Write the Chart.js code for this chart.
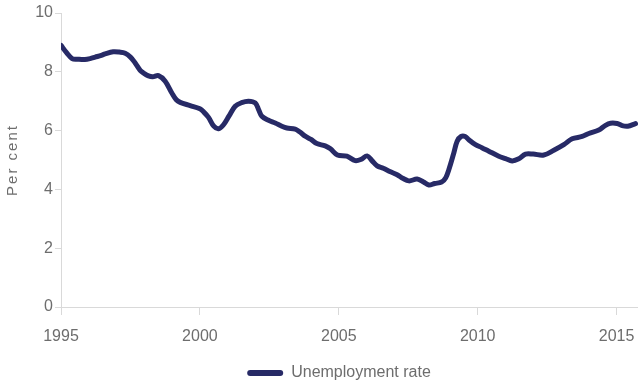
<!DOCTYPE html>
<html>
<head>
<meta charset="utf-8">
<script src="https://cdn.jsdelivr.net/npm/chart.js@4.4.1/dist/chart.umd.min.js"></script>
<style>
html,body{margin:0;padding:0;background:#fff;}
#wrap{width:638px;height:388px;}
</style>
</head>
<body>
<div id="wrap"><canvas id="c" width="638" height="388"></canvas></div>
<script>
// Data (decimal year, per cent)
const years = [1995.00,1995.20,1995.40,1995.60,1995.86,1996.05,1996.23,1996.45,1996.59,1996.88,1997.10,1997.31,1997.50,1997.67,1997.85,1997.97,1998.15,1998.30,1998.51,1998.75,1998.99,1999.15,1999.29,1999.65,2000.00,2000.15,2000.31,2000.50,2000.67,2000.85,2001.05,2001.27,2001.50,2001.75,2001.99,2002.12,2002.23,2002.47,2002.71,2002.95,2003.13,2003.43,2003.60,2003.79,2004.00,2004.21,2004.51,2004.70,2004.95,2005.29,2005.59,2005.80,2006.02,2006.20,2006.38,2006.60,2006.86,2007.10,2007.30,2007.52,2007.82,2008.05,2008.24,2008.45,2008.70,2008.85,2008.96,2009.14,2009.26,2009.40,2009.55,2009.68,2009.92,2010.15,2010.40,2010.76,2011.00,2011.24,2011.48,2011.72,2012.00,2012.38,2012.74,2013.10,2013.40,2013.76,2014.00,2014.36,2014.60,2014.78,2015.02,2015.20,2015.40,2015.68];
const unemploymentRate = [8.90,8.65,8.45,8.43,8.42,8.45,8.50,8.56,8.61,8.68,8.67,8.63,8.50,8.30,8.05,7.96,7.86,7.83,7.87,7.68,7.28,7.05,6.96,6.85,6.74,6.62,6.45,6.15,6.06,6.20,6.50,6.83,6.95,7.00,6.94,6.70,6.49,6.35,6.26,6.15,6.09,6.05,5.95,5.81,5.70,5.56,5.48,5.38,5.17,5.13,4.98,5.02,5.14,4.97,4.80,4.72,4.60,4.50,4.38,4.29,4.35,4.25,4.15,4.20,4.25,4.40,4.67,5.24,5.64,5.80,5.80,5.69,5.52,5.42,5.30,5.13,5.05,4.97,5.04,5.20,5.20,5.17,5.33,5.52,5.72,5.80,5.90,6.02,6.18,6.25,6.24,6.17,6.15,6.24];
const seriesName = 'Unemployment rate';
const yTitle = 'Per cent';
const xTicks = [1995, 2000, 2005, 2010, 2015];
const yTicks = [0, 2, 4, 6, 8, 10];

const points = years.map((x, i) => ({x: x, y: unemploymentRate[i]}));
const navy = '#272a66';
const grey = '#6d6d6d';
const axisGrey = '#d9d9d9';
const tickFont = {family: "'Liberation Sans Narrow','Arial Narrow','Liberation Sans',Arial,sans-serif", size: 16};

const shiftPlugin = {
  id: 'tweaks',
  afterLayout(chart) {
    const lg = chart.legend;
    if (lg) { lg.left += 20; lg.right += 20; lg.top += 3; lg.bottom += 3; }
  },
  beforeDraw(chart) {
    const s = chart.scales.y;
    if (s && !s._lsPatched) {
      const orig = s.drawTitle.bind(s);
      s.drawTitle = function () {
        const ctx = this.ctx;
        ctx.save();
        ctx.letterSpacing = '2px';
        orig();
        ctx.restore();
      };
      s._lsPatched = true;
    }
  }
};

new Chart(document.getElementById('c'), {
  type: 'line',
  data: {
    datasets: [{
      label: seriesName,
      data: points,
      borderColor: navy,
      backgroundColor: navy,
      borderWidth: 5,
      pointRadius: 0,
      tension: 0.35,
      borderCapStyle: 'round',
      borderJoinStyle: 'round'
    }]
  },
  options: {
    responsive: false,
    animation: false,
    layout: {padding: {top: 13, right: 0, bottom: 0, left: 0}},
    plugins: {
      tooltip: {enabled: false},
      legend: {
        position: 'bottom',
        labels: {
          color: grey,
          font: tickFont,
          boxWidth: 36,
          boxHeight: 6,
          padding: 0,
          useBorderRadius: true,
          borderRadius: 3,
          generateLabels: (chart) => [{
            text: seriesName,
            fillStyle: navy,
            strokeStyle: navy,
            lineWidth: 0,
            borderRadius: 3,
            fontColor: grey,
            datasetIndex: 0,
            hidden: false
          }]
        }
      }
    },
    scales: {
      x: {
        type: 'linear',
        min: 1995,
        max: 2015.77,
        afterBuildTicks: (scale) => { scale.ticks = xTicks.map(v => ({value: v})); },
        afterFit: (scale) => { scale.height = 55; scale.paddingRight = 0; scale.paddingLeft = 0; },
        ticks: {
          color: grey,
          font: tickFont,
          padding: 12,
          maxRotation: 0,
          includeBounds: false,
          callback: (v) => String(v)
        },
        grid: {display: true, drawOnChartArea: false, drawTicks: true, tickLength: 8, color: axisGrey, lineWidth: 1},
        border: {display: true, color: axisGrey, width: 1}
      },
      y: {
        min: 0,
        max: 10,
        afterBuildTicks: (scale) => { scale.ticks = yTicks.map(v => ({value: v})); },
        afterFit: (scale) => { scale.width = 61; },
        ticks: {color: grey, font: tickFont, padding: 2, callback: (v) => String(v)},
        grid: {display: true, drawOnChartArea: false, drawTicks: true, tickLength: 6, color: axisGrey, lineWidth: 1},
        border: {display: true, color: axisGrey, width: 1},
        title: {
          display: true,
          text: yTitle,
          color: grey,
          font: {family: "'Liberation Sans',Arial,sans-serif", size: 15},
          padding: {top: 4, bottom: 0}
        }
      }
    }
  },
  plugins: [shiftPlugin]
});
</script>
</body>
</html>
